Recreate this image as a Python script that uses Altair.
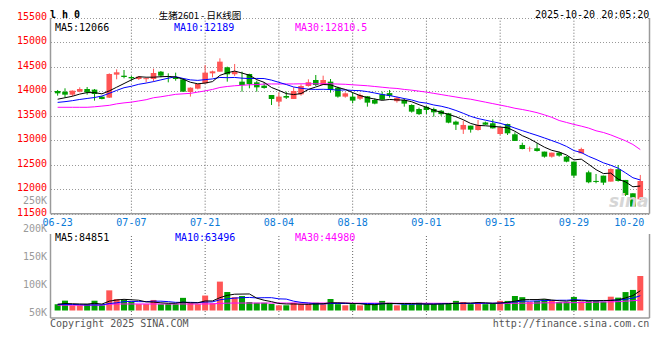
import altair as alt
import pandas as pd

# ---------------- data ----------------
opens = [14008, 13994, 13933, 13994, 14049, 14036, 13893, 13872, 14342, 14321,
         14294, 14253, 14250, 14253, 14403, 14315, 14287, 14246, 13988, 14056,
         14165, 14369, 14403, 14492, 14350, 14199, 14355, 14185, 14117, 13926,
         13790, 13906, 13845, 13940, 14110, 14233, 14131, 14199, 14076, 13893,
         13893, 13850, 13900, 13824, 13940, 13965, 13800, 13824, 13722, 13640,
         13685, 13640, 13605, 13552, 13382, 13220, 13300, 13211, 13365, 13348,
         13129, 13334, 13123, 12905, 12823, 12837, 12769, 12666, 12748, 12666,
         12564, 12735, 12346, 12170, 12278, 12156, 12408, 12190, 11917, 11795]
highs = [14029, 14063, 14020, 14083, 14090, 14049, 13906, 14369, 14451, 14437,
         14314, 14314, 14280, 14465, 14417, 14369, 14383, 14250, 14083, 14151,
         14539, 14424, 14676, 14506, 14560, 14403, 14360, 14219, 14185, 13926,
         13981, 13994, 14083, 14144, 14247, 14335, 14321, 14253, 14097, 13981,
         13981, 13960, 13906, 13858, 13994, 14029, 13893, 13858, 13736, 13668,
         13702, 13668, 13620, 13560, 13402, 13402, 13300, 13416, 13382, 13430,
         13266, 13340, 13164, 12952, 12871, 12939, 12769, 12748, 12768, 12680,
         12564, 12850, 12380, 12312, 12278, 12428, 12496, 12190, 11917, 12292]
lows = [13913, 13879, 13900, 13981, 13933, 13811, 13838, 13865, 14247, 14267,
        14219, 14233, 14185, 14199, 14287, 14185, 14219, 13990, 13893, 14042,
        14165, 14287, 14403, 14199, 14315, 13994, 14063, 13994, 14056, 13722,
        13688, 13845, 13845, 13913, 14097, 14110, 14131, 13974, 13872, 13872,
        13756, 13824, 13688, 13736, 13824, 13872, 13770, 13688, 13566, 13518,
        13538, 13484, 13500, 13348, 13211, 13130, 13157, 13198, 13314, 13240,
        13109, 13109, 12987, 12816, 12768, 12769, 12646, 12646, 12666, 12551,
        12237, 12728, 12122, 12122, 12088, 12156, 12156, 11863, 11645, 11781]
closes = [13960, 13933, 14015, 14049, 13981, 13947, 13845, 14355, 14390, 14294,
          14267, 14301, 14270, 14376, 14321, 14301, 14253, 13994, 14076, 14151,
          14383, 14410, 14608, 14349, 14405, 14131, 14151, 14083, 14070, 13845,
          13893, 13872, 14008, 14110, 14185, 14131, 14233, 14029, 13893, 13960,
          13811, 13926, 13770, 13750, 13830, 13910, 13870, 13750, 13586, 13535,
          13620, 13572, 13535, 13361, 13320, 13314, 13218, 13314, 13320, 13245,
          13266, 13143, 12987, 12823, 12830, 12782, 12666, 12748, 12687, 12564,
          12278, 12823, 12142, 12149, 12135, 12414, 12169, 11883, 11645, 12169]
volumes = [26800, 42300, 22100, 22400, 28200, 42000, 22300, 86500, 49200, 45100,
           38400, 27200, 27300, 45200, 26900, 27400, 27100, 54300, 31200, 27300,
           64200, 31100, 124000, 79300, 57400, 62100, 36300, 33200, 33400, 28100,
           22200, 22400, 33100, 27200, 27300, 33300, 27100, 49400, 27200, 22300,
           27300, 22100, 27200, 27400, 41200, 33300, 22200, 27300, 27100, 33200,
           27300, 27200, 27400, 31300, 41300, 36200, 27300, 36100, 27200, 31200,
           41300, 41100, 62300, 57200, 36300, 41200, 48300, 41100, 36200, 36300,
           58200, 38300, 40100, 40300, 38200, 59300, 55200, 79100, 88300, 148200]
ma5 = [13840, 13870, 13900, 13945, 13975, 13975, 13950, 14010, 14085, 14160,
       14235, 14300, 14290, 14290, 14300, 14305, 14295, 14250, 14187, 14155,
       14170, 14200, 14327, 14380, 14415, 14375, 14330, 14240, 14185, 14080,
       14020, 13955, 13935, 13955, 14040, 14090, 14140, 14135, 14080, 14040,
       13975, 13915, 13872, 13843, 13817, 13835, 13826, 13822, 13789, 13728,
       13675, 13615, 13572, 13530, 13482, 13420, 13345, 13305, 13297, 13285,
       13272, 13255, 13185, 13095, 13030, 12945, 12860, 12795, 12760, 12700,
       12600, 12615, 12510, 12400, 12320, 12330, 12205, 12150, 12050, 12066]
ma10 = [13775, 13790, 13810, 13835, 13855, 13875, 13905, 13960, 14020, 14075,
        14105, 14145, 14170, 14200, 14235, 14270, 14300, 14265, 14235, 14225,
        14240, 14255, 14285, 14280, 14285, 14270, 14262, 14265, 14262, 14230,
        14185, 14140, 14090, 14065, 14045, 14040, 14043, 14038, 14025, 14030,
        14020, 14015, 13995, 13967, 13937, 13915, 13885, 13853, 13825, 13780,
        13760, 13722, 13697, 13660, 13610, 13552, 13490, 13445, 13412, 13380,
        13348, 13305, 13250, 13198, 13148, 13100, 13048, 12995, 12940, 12875,
        12790, 12750, 12672, 12610, 12540, 12490, 12430, 12335, 12235, 12189]
ma30 = [13675, 13675, 13675, 13675, 13675, 13685, 13700, 13715, 13745, 13765,
        13780, 13805, 13830, 13870, 13890, 13915, 13940, 13950, 13960, 13985,
        14010, 14040, 14080, 14100, 14115, 14125, 14135, 14140, 14150, 14152,
        14152, 14152, 14152, 14155, 14155, 14155, 14155, 14155, 14150, 14145,
        14135, 14125, 14115, 14100, 14085, 14070, 14060, 14040, 14025, 14005,
        13985, 13960, 13935, 13910, 13885, 13860, 13840, 13810, 13780, 13750,
        13720, 13690, 13655, 13630, 13600, 13565, 13520, 13470, 13405, 13365,
        13325, 13290, 13250, 13195, 13160, 13110, 13050, 12990, 12915, 12810.5]
vma5 = [27000, 30000, 29000, 28000, 27500, 31000, 27500, 40000, 45000, 48000,
        46000, 44000, 37000, 36000, 33000, 31000, 31000, 36000, 33000, 33000,
        41000, 41000, 55000, 65000, 70000, 70500, 71000, 53000, 44000, 38000,
        30000, 28000, 28000, 27000, 26500, 28000, 29000, 33000, 33000, 32000,
        30000, 29000, 25500, 25000, 29000, 30000, 30000, 30000, 30000, 29000,
        27500, 27000, 28000, 29000, 31000, 32000, 32000, 34000, 33000, 31000,
        32000, 35000, 40000, 46000, 47000, 47000, 49000, 45000, 42000, 40000,
        44000, 42000, 42000, 42000, 43000, 43000, 46000, 54000, 64000, 84851]
vma10 = [26000, 26000, 26000, 25000, 24000, 24000, 24000, 30000, 33000, 38000,
         39000, 38000, 38000, 40000, 40000, 38000, 35000, 35000, 35000, 34000,
         36000, 37000, 46000, 50000, 53000, 55000, 56000, 54000, 55000, 55000,
         50000, 49000, 40000, 35000, 32000, 29000, 28000, 30000, 30000, 30000,
         30000, 30000, 30000, 29000, 29000, 30000, 29000, 27000, 27000, 28000,
         28000, 28000, 29000, 30000, 30000, 30000, 30000, 31000, 31000, 31000,
         32000, 34000, 37000, 40000, 40000, 41000, 43000, 43000, 44000, 44000,
         46000, 45000, 43000, 42000, 42000, 44000, 45000, 48000, 53000, 63496]
vma30 = [23000, 23000, 23000, 23000, 23000, 23000, 23000, 27000, 28000, 28000,
         28000, 28000, 28000, 28000, 28000, 28000, 28000, 28000, 28000, 28000,
         28000, 28500, 30500, 31500, 32000, 32000, 32000, 32000, 32000, 32000,
         32000, 32000, 32000, 32000, 32000, 32000, 32000, 32000, 32000, 32000,
         31500, 31500, 31500, 31500, 31500, 31500, 31000, 31000, 31000, 31000,
         31000, 31000, 31000, 31000, 31000, 31000, 30500, 30500, 30500, 30500,
         30500, 31000, 31000, 31500, 31500, 32000, 33000, 33000, 33000, 33500,
         33500, 34000, 35000, 36000, 36500, 37000, 38000, 40000, 42000, 44980]

tick_idx = [0, 10, 20, 30, 40, 50, 60, 70, 79]
tick_labels = ["06-23", "07-07", "07-21", "08-04", "08-18", "09-01", "09-15", "09-29", "10-20"]
grid_idx = [10, 20, 30, 40, 50, 60, 70]
price_ticks = [11500, 12000, 12500, 13000, 13500, 14000, 14500, 15000, 15500]
vol_ticks = [50000, 100000, 150000, 200000, 250000]

n = len(closes)
df = pd.DataFrame({
    "i": list(range(n)), "open": opens, "high": highs, "low": lows, "close": closes,
    "vol": volumes, "ma5": ma5, "ma10": ma10, "ma30": ma30,
    "vma5": vma5, "vma10": vma10, "vma30": vma30,
})
mid_df = pd.DataFrame({"t": tick_idx[:-1], "lab": tick_labels[:-1]})
last_df = pd.DataFrame({"t": tick_idx[-1:], "lab": tick_labels[-1:]})
one = pd.DataFrame({"k": [0]})

# ---------------- styling ----------------
W, H = 599, 300
FONT = "DejaVu Sans Mono"
UP, DOWN = "#ff5555", "#00a000"
GRID, FRAME = "#999999", "#9a9a9a"
VGRID = "#666666"
BLUE_LBL = "#0a7ad8"

xs = alt.Scale(domain=[-0.29, 79.57], nice=False, zero=False)
ps = alt.Scale(domain=[9368.2, 15500], nice=False, zero=False)      # price panel
vs = alt.Scale(domain=[-32189, 1255365], nice=False, zero=False)    # volume bars
ls = alt.Scale(domain=[39570, 576750], nice=False, zero=False)      # volume labels
qs = alt.Scale(domain=[0, 300 / 21], nice=False, zero=False)        # volume panel frame

def X(field="i"):
    return alt.X(f"{field}:Q", scale=xs, axis=None)

p_axis = alt.Axis(orient="left", values=price_ticks, format="d", labelColor="#ff0000",
                  grid=True, gridColor=GRID, gridDash=[1, 2], gridWidth=1, domain=False,
                  ticks=False, tickSize=0, labelPadding=4, labelOffset=-1.5, labelOverlap=False, title=None)
l_axis = alt.Axis(orient="left", values=vol_ticks, labelExpr="(datum.value / 1000) + 'K'",
                  labelColor="#9a9a9a", grid=False, domain=False, ticks=False, tickSize=0,
                  labelPadding=4, labelOverlap=False, title=None)
q_axis = alt.Axis(orient="left", values=[1, 2, 3, 4], grid=True, gridColor=GRID, gridDash=[1, 2],
                  gridWidth=1, labels=False, ticks=False, domain=False, title=None)

col = alt.condition("datum.close >= datum.open", alt.value(UP), alt.value(DOWN))
base = alt.Chart(df)
on_grid = base.transform_filter(alt.FieldOneOfPredicate(field="i", oneOf=grid_idx))

def txt(s, x, y, color="#000000", align="left", size=10, font=FONT, weight="normal", style="normal"):
    return alt.Chart(one).mark_text(text=s, align=align, baseline="middle", font=font, fontSize=size,
                                    color=color, fontWeight=weight, fontStyle=style).encode(
        x=alt.value(x), y=alt.value(y))

def line(field, color, scale):
    return base.mark_line(strokeWidth=1, color=color).encode(
        x=X(), y=alt.Y(f"{field}:Q", scale=scale, axis=None))

# ---------------- axes carriers (invisible) ----------------
pax = base.mark_point(opacity=0).encode(x=X(), y=alt.Y("close:Q", scale=ps, axis=p_axis))
vlab = base.mark_point(opacity=0).encode(x=X(), y=alt.Y("vol:Q", scale=ls, axis=l_axis))

# ---------------- price panel ----------------
pgrid = on_grid.mark_rule(color=VGRID, strokeDash=[1, 2], strokeWidth=1).encode(
    x=X(), y=alt.YDatum(price_ticks[0], scale=ps, axis=None), y2=alt.Y2Datum(price_ticks[-1]))
date_mid = alt.Chart(mid_df).mark_text(
    align="center", baseline="top", dy=4, font=FONT, fontSize=10, color=BLUE_LBL).encode(
    x=X("t"), y=alt.YDatum(price_ticks[0], scale=ps, axis=None), text="lab:N")
date_last = alt.Chart(last_df).mark_text(
    align="right", baseline="top", dy=4, dx=4, font=FONT, fontSize=10, color=BLUE_LBL).encode(
    x=X("t"), y=alt.YDatum(price_ticks[0], scale=ps, axis=None), text="lab:N")

wick = base.mark_rule(strokeWidth=1).encode(
    x=X(), y=alt.Y("low:Q", scale=ps, axis=None), y2="high:Q", color=col)
body = base.mark_bar(size=5.6).encode(
    x=X(), y=alt.Y("open:Q", scale=ps, axis=None), y2="close:Q", color=col)

p_left = alt.Chart(one).mark_rule(color=FRAME, strokeWidth=1.5).encode(
    x=alt.value(0), y=alt.YDatum(price_ticks[0], scale=ps, axis=None), y2=alt.Y2Datum(price_ticks[-1]))
p_right = alt.Chart(one).mark_rule(color=FRAME, strokeWidth=1.5).encode(
    x=alt.value(W), y=alt.YDatum(price_ticks[0], scale=ps, axis=None), y2=alt.Y2Datum(price_ticks[-1]))
p_bottom = alt.Chart(one).mark_rule(color=FRAME, strokeWidth=1.5).encode(
    x=alt.value(0), x2=alt.value(W), y=alt.YDatum(price_ticks[0], scale=ps, axis=None))

price = alt.layer(pgrid, date_mid, date_last, body, wick,
                  line("ma30", "#ff00ff", ps), line("ma10", "#0000ff", ps), line("ma5", "#000000", ps),
                  p_left, p_right, p_bottom)

texts = alt.layer(
    txt("l h 0", -0.5, -3, size=10, weight="bold"),
    txt("生猪2601  -  日K线图", 149.5, -2, align="center", size=9.5, font="Noto Sans CJK SC"),
    txt("2025-10-20 20:05:20", 598.8, -3, align="right"),
    txt(f"MA5:{ma5[-1]}", 4.5, 9.8),
    txt(f"MA10:{ma10[-1]}", 123.5, 9.8, color="#0000ff"),
    txt(f"MA30:{ma30[-1]}", 244.5, 9.8, color="#ff00ff"),
    txt(f"MA5:{vma5[-1]}", 4.5, 220.3),
    txt(f"MA10:{vma10[-1]}", 124.5, 220.3, color="#0000ff"),
    txt(f"MA30:{vma30[-1]}", 244.5, 220.3, color="#ff00ff"),
    txt("Copyright 2025 SINA.COM", -0.5, 306, color="#555555"),
    txt("http://finance.sina.com.cn", 598.8, 306, color="#555555", align="right"),
    txt("sina", 598, 184, color="#d6d6d6", align="right", size=17, font="DejaVu Sans",
        weight="bold", style="italic"),
)

# ---------------- volume panel ----------------
vbars = base.mark_bar(size=6).encode(
    x=X(), y=alt.Y("vol:Q", scale=vs, axis=None), y2=alt.Y2Datum(0), color=col)
volume = alt.layer(vbars, line("vma30", "#ff00ff", vs), line("vma10", "#0000ff", vs),
                   line("vma5", "#000000", vs))

vgrid = on_grid.mark_rule(color=VGRID, strokeDash=[1, 2], strokeWidth=1).encode(
    x=X(), y=alt.YDatum(0, scale=qs, axis=None), y2=alt.Y2Datum(4))
v_left = alt.Chart(one).mark_rule(color=FRAME, strokeWidth=1.5).encode(
    x=alt.value(0), y=alt.YDatum(0, scale=qs, axis=None), y2=alt.Y2Datum(4))
v_right = alt.Chart(one).mark_rule(color=FRAME, strokeWidth=1.5).encode(
    x=alt.value(W), y=alt.YDatum(0, scale=qs, axis=None), y2=alt.Y2Datum(4))
v_bottom = alt.Chart(one).mark_rule(color=FRAME, strokeWidth=1.5).encode(
    x=alt.value(0), x2=alt.value(W), y=alt.YDatum(0, scale=qs, axis=q_axis))
quarter = alt.layer(vgrid, v_left, v_right, v_bottom)

chart = alt.layer(pax, quarter, volume, vlab, price, texts).resolve_scale(
    y="independent").properties(
    width=W, height=H,
    autosize=alt.AutoSizeParams(type="none"),
    padding={"left": 42.5, "top": 10, "right": 2, "bottom": 30},
).configure_view(stroke=None).configure_axis(labelFont=FONT, labelFontSize=10)

chart.save("out.html", embed_options={"renderer": "svg", "actions": False})
